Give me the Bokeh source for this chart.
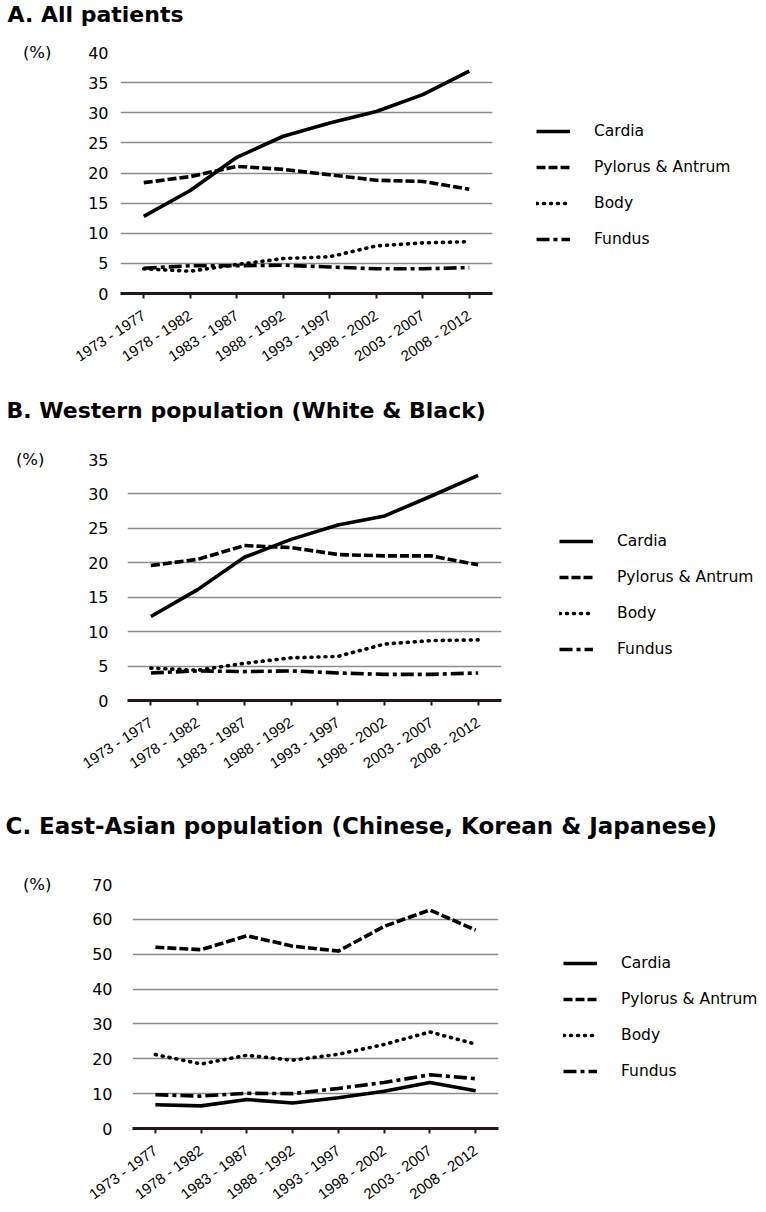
from bokeh.plotting import figure
from bokeh.models import (FactorRange, Range1d, FixedTicker, Legend, LegendItem,
                          Title, LinearAxis)
from bokeh.embed import file_html
from bokeh.resources import INLINE

periods = ["1973 - 1977", "1978 - 1982", "1983 - 1987", "1988 - 1992",
           "1993 - 1997", "1998 - 2002", "2003 - 2007", "2008 - 2012"]
series_names = ["Cardia", "Pylorus & Antrum", "Body", "Fundus"]

cardia_A = [12.8, 17.1, 22.6, 26.1, 28.3, 30.2, 33.0, 36.9]
pylorus_A = [18.4, 19.4, 21.1, 20.6, 19.7, 18.8, 18.6, 17.3]
body_A = [4.1, 3.7, 4.8, 5.8, 6.1, 7.9, 8.4, 8.6]
fundus_A = [4.2, 4.6, 4.6, 4.7, 4.4, 4.1, 4.1, 4.3]

cardia_B = [12.2, 16.1, 20.8, 23.4, 25.5, 26.8, 29.7, 32.7]
pylorus_B = [19.6, 20.5, 22.5, 22.2, 21.2, 21.0, 21.0, 19.7]
body_B = [4.7, 4.4, 5.4, 6.2, 6.4, 8.2, 8.7, 8.8]
fundus_B = [4.0, 4.3, 4.2, 4.3, 4.0, 3.8, 3.8, 4.0]

cardia_C = [6.8, 6.5, 8.3, 7.3, 8.8, 10.7, 13.2, 10.8]
pylorus_C = [52.0, 51.3, 55.3, 52.3, 50.9, 58.0, 62.7, 56.9]
body_C = [21.2, 18.5, 21.0, 19.6, 21.3, 24.1, 27.7, 24.2]
fundus_C = [9.7, 9.3, 10.1, 10.0, 11.5, 13.2, 15.4, 14.3]

titles = ["A. All patients", "B. Western population (White & Black)",
          "C. East-Asian population (Chinese, Korean & Japanese)"]
y_max = [40, 35, 70]
y_step = [5, 5, 10]
unit_label = "(%)"

DASHES = ["solid", "9 3", "1 6", "13 4 4 4"]
CAPS = ["butt", "butt", "round", "butt"]
AXIS_COLOR = "#231815"
GRID_COLOR = "#8c8c8c"
FONT = "DejaVu Sans"


def make_panel(title, ymax, step, data, geo):
    (bl, fw, br, bt, fh, bb, ystand, pct_stand, leg_xy, t_off, t_stand,
     sp_stand, xangle, t_size) = geo
    p = figure(x_range=FactorRange(factors=periods), y_range=Range1d(0, ymax),
               frame_width=fw, frame_height=fh,
               min_border_left=bl, min_border_right=br,
               min_border_top=bt, min_border_bottom=bb,
               output_backend="svg", toolbar_location=None)
    p.outline_line_color = None
    p.background_fill_color = "white"
    p.border_fill_color = "white"

    # spacer between the panel title and the plot frame
    p.add_layout(Title(text=" ", text_font_size="1px", standoff=sp_stand), "above")

    p.title.text = title
    p.title.align = "left"
    p.title.offset = t_off
    p.title.standoff = t_stand
    p.title.vertical_align = "top"
    p.title.text_font = FONT
    p.title.text_font_style = "bold"
    p.title.text_font_size = t_size
    p.title.text_color = "black"

    p.xgrid.grid_line_color = None
    p.ygrid.grid_line_color = GRID_COLOR
    p.ygrid.grid_line_width = 1.3
    p.yaxis.ticker = FixedTicker(ticks=list(range(0, ymax + 1, step)))
    p.yaxis.axis_line_color = None
    p.yaxis.major_tick_line_color = None
    p.yaxis.minor_tick_line_color = None
    p.yaxis.major_tick_out = 0
    p.yaxis.major_tick_in = 0
    p.yaxis.major_label_standoff = ystand
    p.yaxis.major_label_text_font = FONT
    p.yaxis.major_label_text_font_size = "16px"
    p.yaxis.major_label_text_color = "black"

    # unit label "(%)" next to the top tick
    ua = LinearAxis(ticker=FixedTicker(ticks=[ymax]),
                    major_label_overrides={ymax: unit_label},
                    axis_line_color=None, major_tick_line_color=None,
                    minor_tick_line_color=None, major_tick_out=0, major_tick_in=0,
                    major_label_standoff=pct_stand,
                    major_label_text_font=FONT, major_label_text_font_size="16.5px",
                    major_label_text_color="black")
    p.add_layout(ua, "left")

    p.xaxis.axis_line_color = AXIS_COLOR
    p.xaxis.axis_line_width = 2.8
    p.xaxis.major_tick_line_color = AXIS_COLOR
    p.xaxis.major_tick_line_width = 2
    p.xaxis.major_tick_out = 5
    p.xaxis.major_tick_in = 0
    p.xaxis.major_label_orientation = xangle
    p.xaxis.major_label_standoff = 15
    p.xaxis.major_label_text_font = "Liberation Sans"
    p.xaxis.major_label_text_font_size = "15px"
    p.xaxis.major_label_text_color = "black"

    items = []
    for name, vals, dash, cap in zip(series_names, data, DASHES, CAPS):
        r = p.line(x=periods, y=vals, line_color="black", line_width=3.6,
                   line_dash=dash, line_cap=cap, line_join="round")
        items.append(LegendItem(label=name, renderers=[r]))

    leg = Legend(items=items, location=leg_xy, orientation="vertical",
                 glyph_width=34, glyph_height=20, label_height=20,
                 spacing=16, padding=0, margin=0, label_standoff=24,
                 label_text_font=FONT, label_text_font_size="15.5px",
                 label_text_color="black",
                 border_line_color=None, background_fill_alpha=0)
    p.add_layout(leg, "right")
    return p


#        bl   fw   br  bt  fh   bb  ystand pct legend    t_off t_st sp  angle  title size
geoA = (120, 372, 268, 52, 241, 100, 12, 34, (44, 44), -113, 1, 20, 0.58, "22px")
geoB = (127, 374, 259, 66, 241, 100, 19, 41, (58, 41), -121, 6, 29, 0.58, "22px")
geoC = (132, 366, 262, 84, 244, 80, 20, 38, (65, 47), -127, 23, 29, 0.63, "23px")

pA = make_panel(titles[0], y_max[0], y_step[0], [cardia_A, pylorus_A, body_A, fundus_A], geoA)
pB = make_panel(titles[1], y_max[1], y_step[1], [cardia_B, pylorus_B, body_B, fundus_B], geoB)
pC = make_panel(titles[2], y_max[2], y_step[2], [cardia_C, pylorus_C, body_C, fundus_C], geoC)

open("out.html", "w").write(file_html([pA, pB, pC], INLINE))
